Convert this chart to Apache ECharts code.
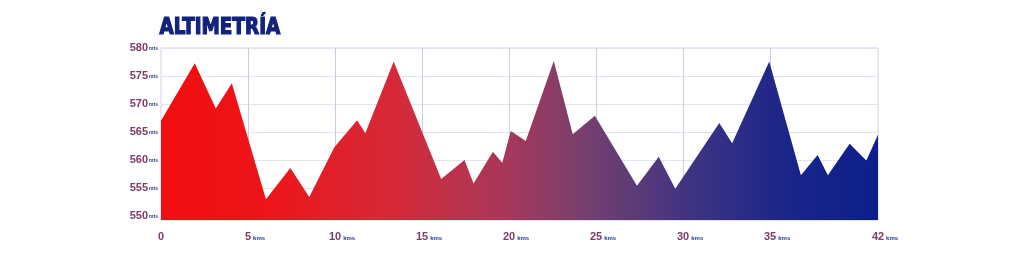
<!DOCTYPE html>
<html>
<head>
<meta charset="utf-8">
<script src="https://cdn.jsdelivr.net/npm/echarts@6/dist/echarts.min.js"></script>
<style>
html,body{margin:0;padding:0;background:#fff;}
#chart{width:1024px;height:270px;}
</style>
</head>
<body>
<div id="chart"></div>
<script>
// Distance along course (km) and altitude (m) of each profile vertex
const kms  = [0, 1.94, 3.15, 4.07, 6.03, 7.43, 8.52, 9.96, 11.27, 11.74, 13.37, 16.1, 17.44, 17.96, 19.07, 19.61, 20.1, 20.96, 22.57, 23.66, 24.93, 27.35, 28.6, 29.55, 32.08, 32.82, 34.95, 36.77, 37.73, 38.32, 39.57, 40.53, 41.2];
const alts = [567, 577.3, 569.2, 573.7, 553.0, 558.6, 553.4, 562.3, 567.1, 564.8, 577.6, 556.6, 560.0, 555.8, 561.5, 559.5, 565.2, 563.4, 577.7, 564.6, 567.9, 555.4, 560.6, 554.9, 566.6, 563.0, 577.6, 557.3, 560.9, 557.3, 562.9, 559.9, 564.5];
// Axis ticks
const xGridKms = [5, 10, 15, 20, 25, 30, 35];
const xEndKm = 41.2;
const xEndLabel = '42';
const yMin = 549.3, yMax = 580;
const titleText = 'ALTIMETRÍA';

const chart = echarts.init(document.getElementById('chart'), null, {renderer: 'canvas'});
const data = kms.map((k, i) => [k, alts[i]]);

chart.setOption({
  animation: false,
  backgroundColor: '#ffffff',
  graphic: [{
    type: 'text',
    left: 159,
    top: 16,
    scaleX: 0.89,
    style: {
      text: titleText,
      font: '900 23px "DejaVu Sans Condensed", "Liberation Sans Narrow", sans-serif',
      fill: '#13237d',
      stroke: '#13237d',
      lineWidth: 1.2
    }
  }],
  grid: {
    left: 161, right: 146, top: 48, bottom: 50,
    show: true, borderColor: '#c9d3ea', borderWidth: 1, backgroundColor: 'transparent'
  },
  xAxis: {
    type: 'value',
    min: 0, max: xEndKm,
    splitNumber: 8, minInterval: 5, maxInterval: 5,
    axisLine: {show: false}, axisTick: {show: false},
    splitLine: {show: false},
    axisLabel: {
      margin: 11,
      showMaxLabel: true,
      formatter: function (v) {
        if (Math.abs(v - xEndKm) < 1e-6) return '{h|kms}{n|' + xEndLabel + '}{u|kms}';
        if (v === 0) return '{n|0}';
        if (v % 5 !== 0 || v > 35) return '';
        return '{h|kms}{n|' + v + '}{u|kms}';
      },
      rich: {
        n: {fontFamily: '"Liberation Sans", Arial, sans-serif', fontWeight: 'bold', fontSize: 11, color: '#7d3a6b'},
        u: {fontFamily: '"Liberation Sans", Arial, sans-serif', fontWeight: 'bold', fontSize: 6, color: '#2b3a8c', padding: [3, 0, 0, 2]},
        h: {fontFamily: '"Liberation Sans", Arial, sans-serif', fontWeight: 'bold', fontSize: 6, color: 'rgba(0,0,0,0)', padding: [3, 2, 0, 0]}
      }
    }
  },
  yAxis: {
    type: 'value',
    min: yMin, max: yMax,
    splitNumber: 5, minInterval: 5, maxInterval: 5,
    axisLine: {show: false}, axisTick: {show: false},
    splitLine: {show: true, lineStyle: {color: '#dfe4ee', width: 1}},
    axisLabel: {
      margin: 3,
      formatter: function (v) {
        if (Math.abs(v % 5) > 1e-6) return '';
        return '{n|' + v + '}{u|mts}';
      },
      rich: {
        n: {fontFamily: '"Liberation Sans", Arial, sans-serif', fontWeight: 'bold', fontSize: 11, color: '#7d3a6b'},
        u: {fontFamily: '"Liberation Sans", Arial, sans-serif', fontWeight: 'bold', fontSize: 5, color: '#2b3a8c', padding: [2, 0, 0, 1]}
      }
    }
  },
  series: [{
    type: 'line',
    data: [],
    silent: true,
    z: 0,
    markLine: {
      silent: true,
      z: 0,
      symbol: 'none',
      label: {show: false},
      lineStyle: {color: '#c5d0e8', width: 1, type: 'solid'},
      data: xGridKms.map(k => ({xAxis: k}))
    }
  }, {
    type: 'line',
    data: data,
    showSymbol: false,
    smooth: false,
    lineStyle: {width: 0},
    areaStyle: {
      opacity: 1,
      color: new echarts.graphic.LinearGradient(0, 0, 1, 0, [
        {offset: 0, color: '#f20d10'},
        {offset: 0.15, color: '#ec1519'},
        {offset: 0.33, color: '#d52a3a'},
        {offset: 0.48, color: '#a7385a'},
        {offset: 0.6, color: '#733f6f'},
        {offset: 0.74, color: '#3f3383'},
        {offset: 0.88, color: '#1a2489'},
        {offset: 1, color: '#0c1f8a'}
      ])
    },
    z: 6
  }]
});
</script>
</body>
</html>
